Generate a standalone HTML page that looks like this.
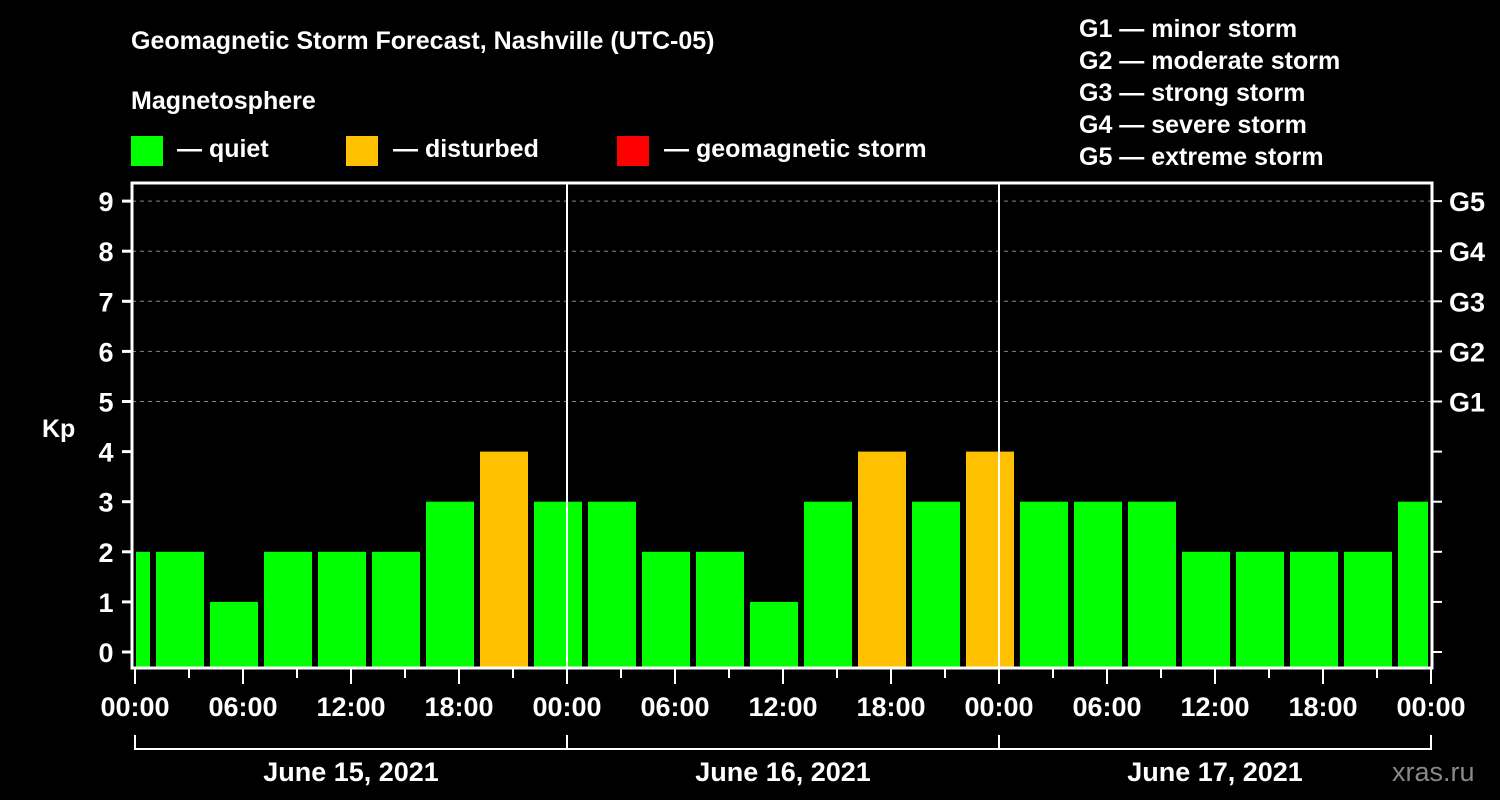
<!DOCTYPE html>
<html><head><meta charset="utf-8"><style>
body{margin:0;background:#000;}
svg{display:block;font-family:"Liberation Sans",sans-serif;font-weight:bold;}
</style></head><body>
<svg width="1500" height="800" viewBox="0 0 1500 800">
<g id="header" fill="#fff" font-size="25">
<text x="131" y="49">Geomagnetic Storm Forecast, Nashville (UTC-05)</text>
<text x="131" y="109">Magnetosphere</text>
<rect x="131" y="136" width="32" height="30" fill="#00ff00"/>
<text x="177" y="157">— quiet</text>
<rect x="346" y="136" width="32" height="30" fill="#ffc000"/>
<text x="393" y="157">— disturbed</text>
<rect x="617" y="136" width="32" height="30" fill="#ff0000"/>
<text x="664" y="157">— geomagnetic storm</text>
<text x="1079" y="37">G1 — minor storm</text>
<text x="1079" y="69">G2 — moderate storm</text>
<text x="1079" y="101">G3 — strong storm</text>
<text x="1079" y="133">G4 — severe storm</text>
<text x="1079" y="165">G5 — extreme storm</text>
<text x="42" y="437">Kp</text>
<text x="1392" y="781" fill="#888" font-weight="normal" font-size="27">xras.ru</text>
</g>
<g id="grid"></g>
<g id="bars"></g>
<g id="axes"></g>
</svg>
<script>
const binStarts=[-2,1,4,7,10,13,16,19,22,25,28,31,34,37,40,43,46,49,52,55,58,61,64,67,70];
const kpValues=[2,2,1,2,2,2,3,4,3,3,2,2,1,3,4,3,4,3,3,3,2,2,2,2,3];
const yTicks=[0,1,2,3,4,5,6,7,8,9];
const gLabels=["G1","G2","G3","G4","G5"];
const gLevels=[5,6,7,8,9];
const xTickLabels=["00:00","06:00","12:00","18:00","00:00","06:00","12:00","18:00","00:00","06:00","12:00","18:00","00:00"];
const dayLabels=["June 15, 2021","June 16, 2021","June 17, 2021"];
const NS="http://www.w3.org/2000/svg";
const L=132,R=1432,T=183,B=668;
const x=h=>135+h*18;
const y=v=>652-v*50.1;
function mk(tag,attrs,parent,text){const e=document.createElementNS(NS,tag);for(const k in attrs)e.setAttribute(k,attrs[k]);if(text!==undefined)e.textContent=text;document.getElementById(parent).appendChild(e);return e;}
gLevels.forEach(v=>{
 const g=mk('line',{x1:L,x2:R,y1:y(v),y2:y(v),stroke:'#888','stroke-dasharray':'4,4','stroke-width':1},'grid');
 
 
});
binStarts.forEach((s,i)=>{
 const v=kpValues[i];
 const x0=Math.max(x(s)+3,L+4),x1=Math.min(x(s+3)-3,R-4);
 const c=v>=5?'#ff0000':(v>=4?'#ffc000':'#00ff00');
 const r=mk('rect',{x:x0,y:y(v),width:x1-x0,height:B-y(v),fill:c},'bars');
 
 
});
// day separators
[24,48].forEach(h=>{const l=mk('line',{x1:x(h),x2:x(h),y1:T,y2:B,stroke:'#fff','stroke-width':2},'axes');

});
const fr=mk('rect',{x:L,y:T,width:R-L,height:B-T,fill:'none',stroke:'#fff','stroke-width':3},'axes');


yTicks.forEach(v=>{
 mk('line',{x1:122,x2:L,y1:y(v),y2:y(v),stroke:'#fff','stroke-width':3},'axes');
 mk('line',{x1:R,x2:1442,y1:y(v),y2:y(v),stroke:'#fff','stroke-width':2},'axes');
 const t=mk('text',{x:106,y:y(v)+10,fill:'#fff','font-size':27,'text-anchor':'middle'},'axes',String(v));
 
 
});
gLevels.forEach((v,i)=>{
 const t=mk('text',{x:1449,y:y(v)+10,fill:'#fff','font-size':27},'axes',gLabels[i]);
 
 
});
for(let h=0;h<=72;h+=3){
 const major=h%6===0;
 mk('line',{x1:x(h),x2:x(h),y1:B,y2:major?684:678,stroke:'#fff','stroke-width':2},'axes');
}
xTickLabels.forEach((lab,i)=>{
 const t=mk('text',{x:x(i*6),y:716,fill:'#fff','font-size':27,'text-anchor':'middle'},'axes',lab);
 
 
});
mk('path',{d:`M${x(0)},735V749H${x(72)}V735`,fill:'none',stroke:'#fff','stroke-width':2},'axes');
[24,48].forEach(h=>mk('line',{x1:x(h),x2:x(h),y1:735,y2:749,stroke:'#fff','stroke-width':2},'axes'));
dayLabels.forEach((d,i)=>{
 const t=mk('text',{x:x(i*24+12),y:781,fill:'#fff','font-size':27,'text-anchor':'middle'},'axes',d);
 
 
});
</script>
</body></html>
